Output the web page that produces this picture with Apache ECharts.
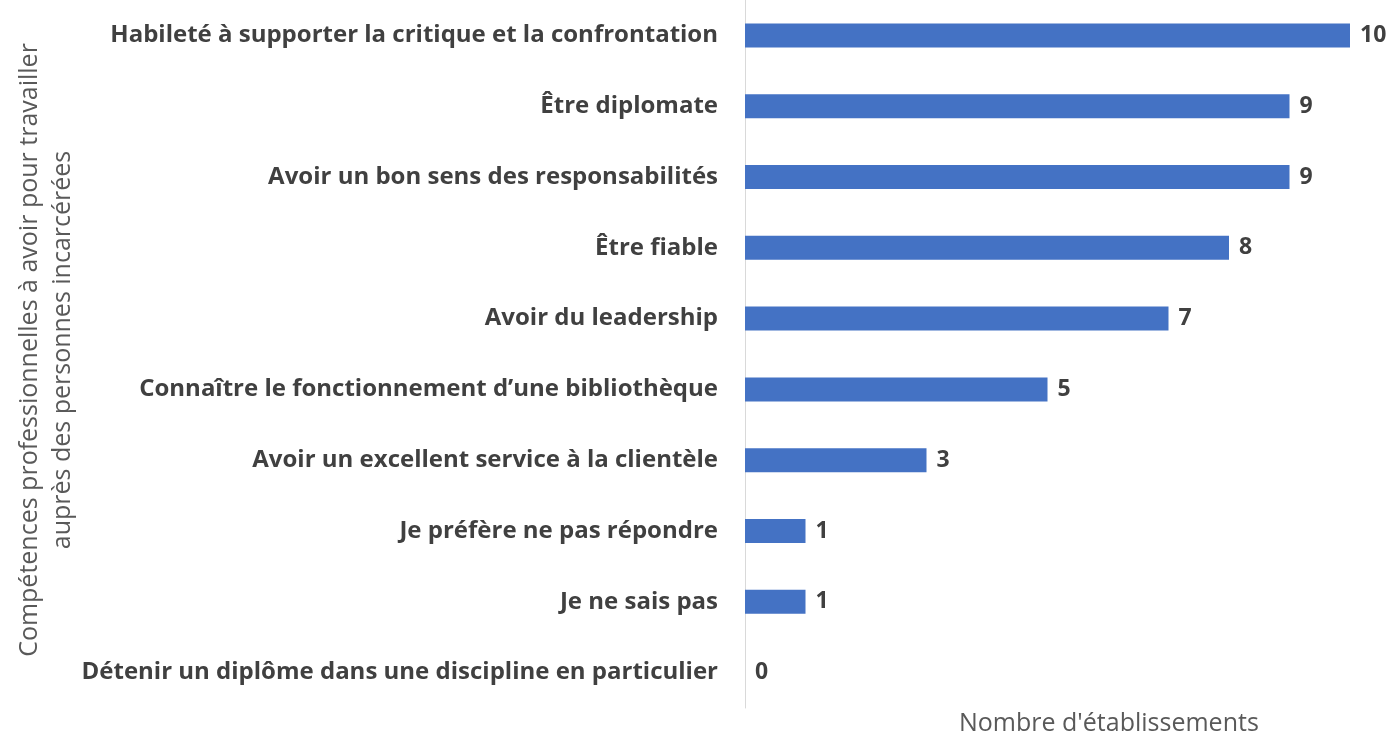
<!DOCTYPE html>
<html><head><meta charset="utf-8">
<script src="https://cdn.jsdelivr.net/npm/echarts@6/dist/echarts.min.js"></script>
<style>html,body{margin:0;padding:0;background:#fff}#c{width:1395px;height:741px}</style>
</head><body><div id="c"></div>
<script>
const categories = [
  "Habileté à supporter la critique et la confrontation",
  "Être diplomate",
  "Avoir un bon sens des responsabilités",
  "Être fiable",
  "Avoir du leadership",
  "Connaître le fonctionnement d’une bibliothèque",
  "Avoir un excellent service à la clientèle",
  "Je préfère ne pas répondre",
  "Je ne sais pas",
  "Détenir un diplôme dans une discipline en particulier"
];
const values = [10, 9, 9, 8, 7, 5, 3, 1, 1, 0];
const xAxisTitle = "Nombre d'établissements";
const yAxisTitle = "Compétences professionnelles à avoir pour travailler\nauprès des personnes incarcérées";

const FONT = "'Open Sans'";
const chart = echarts.init(document.getElementById('c'));
chart.setOption({
  animation: false,
  grid: {left: 745, right: 45, top: -2, bottom: 33, containLabel: false},
  xAxis: {type: 'value', min: 0, max: 10, show: true,
    axisLine: {show: false}, axisTick: {show: false}, axisLabel: {show: false}, splitLine: {show: false}},
  yAxis: {type: 'category', data: categories, inverse: true,
    axisLine: {show: true, lineStyle: {color: '#d9d9d9', width: 1}},
    axisTick: {show: false},
    axisLabel: {margin: 27, color: '#404040', fontFamily: FONT, fontWeight: 'bold', fontSize: 24}},
  series: [{type: 'bar', data: values, barWidth: 24,
    itemStyle: {color: '#4472C4'},
    label: {show: true, position: 'right', distance: 10, color: '#404040', fontFamily: FONT, fontWeight: 'bold', fontSize: 23}}],
  graphic: [
    {type: 'text', left: 959, top: 711, style: {text: xAxisTitle, fill: '#595959', font: '25px ' + FONT}},
    {type: 'text', x: 46, y: 350, rotation: Math.PI / 2,
      style: {text: yAxisTitle, fill: '#595959', font: '25px ' + FONT, align: 'center', verticalAlign: 'middle', lineHeight: 33}}
  ]
});
</script></body></html>
